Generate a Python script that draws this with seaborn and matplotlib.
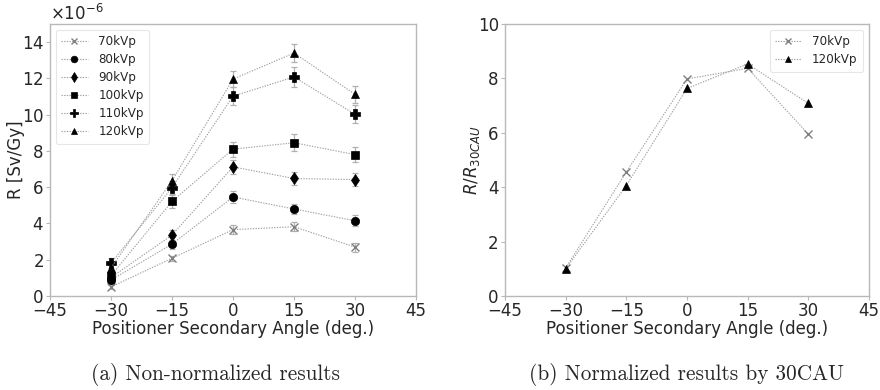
import numpy as np
import pandas as pd
import matplotlib
matplotlib.use("Agg")
import matplotlib.pyplot as plt
import matplotlib.ticker as mticker
import seaborn as sns

# ---- data ----
angles = [-30, -15, 0, 15, 30]
series_names = ["70kVp", "80kVp", "90kVp", "100kVp", "110kVp", "120kVp"]
r70 = [0.50, 2.08, 3.66, 3.82, 2.70]
r80 = [0.88, 2.86, 5.46, 4.80, 4.15]
r90 = [1.02, 3.36, 7.12, 6.48, 6.42]
r100 = [1.12, 5.22, 8.10, 8.45, 7.80]
r110 = [1.82, 5.98, 11.02, 12.08, 10.02]
r120 = [1.55, 6.36, 11.96, 13.40, 11.12]
e70 = [0.10, 0.15, 0.25, 0.25, 0.25]
e80 = [0.15, 0.25, 0.35, 0.28, 0.30]
e90 = [0.18, 0.30, 0.37, 0.35, 0.35]
e100 = [0.20, 0.34, 0.42, 0.46, 0.40]
e110 = [0.25, 0.35, 0.50, 0.53, 0.50]
e120 = [0.30, 0.35, 0.46, 0.51, 0.48]
n70 = [1.03, 4.56, 7.98, 8.37, 5.95]
n120 = [1.00, 4.06, 7.63, 8.53, 7.08]
norm_names = ["70kVp", "120kVp"]
xticks = [-45, -30, -15, 0, 15, 30, 45]

sns.set_style("white")
plt.rcParams["font.family"] = ["DejaVu Sans"]
plt.rcParams["axes.edgecolor"] = "#b8b8b8"
plt.rcParams["axes.linewidth"] = 1.0

fig = plt.figure(figsize=(8.8, 3.9), dpi=100)
H = 390.0
W = 880.0
axL = fig.add_axes([50 / W, 1 - 296 / H, 366 / W, 272 / H])
axR = fig.add_axes([505 / W, 1 - 296 / H, 364 / W, 272 / H])

vals = [r70, r80, r90, r100, r110, r120]
errs = [e70, e80, e90, e100, e110, e120]
markers = ["x", "o", "d", "s", "P", "^"]
mcols = ["#808080", "black", "black", "black", "black", "black"]
msizes = [6, 6, 6, 5.5, 6.5, 6]

line_kw = dict(color="#a0a0a0", linestyle=(0, (1.2, 1.2)), linewidth=0.8)
FS = 12

for name, v, e, m, mc, ms in zip(series_names, vals, errs, markers, mcols, msizes):
    df = pd.DataFrame({"angle": angles, "R": np.array(v) * 1e-6})
    axL.errorbar(df["angle"], df["R"], yerr=np.array(e) * 1e-6, fmt="none",
                 ecolor="#b0b0b0", elinewidth=0.9, capsize=2.5, capthick=0.9, zorder=1)
    sns.lineplot(data=df, x="angle", y="R", ax=axL, label=name, marker=m,
                 markerfacecolor=mc, markeredgecolor=mc, markersize=ms,
                 markeredgewidth=1.0 if m == "x" else 0.5, zorder=3, **line_kw)

for name, v, m, mc in zip(norm_names, [n70, n120], ["x", "^"], ["#808080", "black"]):
    df = pd.DataFrame({"angle": angles, "N": v})
    sns.lineplot(data=df, x="angle", y="N", ax=axR, label=name, marker=m,
                 markerfacecolor=mc, markeredgecolor=mc, markersize=6,
                 markeredgewidth=1.0 if m == "x" else 0.5, zorder=3, **line_kw)

for ax in (axL, axR):
    ax.set_xlim(-45, 45)
    ax.set_xticks(xticks)
    ax.tick_params(axis="both", which="both", length=3, width=0.8, color="#b8b8b8",
                   labelsize=FS, pad=1.5, bottom=True, left=True)
    ax.set_xlabel("Positioner Secondary Angle (deg.)", fontsize=FS, labelpad=0)

axL.set_ylim(0, 15e-6)
axL.set_yticks(np.arange(0, 15e-6, 2e-6))
fmt = mticker.ScalarFormatter(useMathText=True)
fmt.set_powerlimits((-6, -6))
axL.yaxis.set_major_formatter(fmt)
axL.yaxis.get_offset_text().set_fontsize(FS)
axL.set_ylabel("R [Sv/Gy]", fontsize=FS)
axL.yaxis.set_label_coords(-0.068, 0.5)

axR.set_ylim(0, 10)
axR.set_yticks([0, 2, 4, 6, 8, 10])
axR.set_ylabel("$R/R_{30CAU}$", fontsize=FS)
axR.yaxis.set_label_coords(-0.063, 0.5)

leg_kw = dict(fontsize=8.6, frameon=True, labelspacing=0.42, handlelength=2.2,
              borderaxespad=0.5, borderpad=0.45, handletextpad=0.9, markerscale=0.8)
legL = axL.legend(loc="upper left", **leg_kw)
legR = axR.legend(loc="upper right", **leg_kw)
for lg in (legL, legR):
    lg.get_frame().set_edgecolor("#e0e0e0")
    lg.get_frame().set_linewidth(0.8)

fig.text(215 / W, 1 - 374 / H, "(a) Non-normalized results", fontfamily="cmr10",
         fontsize=15.3, ha="center", va="center")
fig.text(686 / W, 1 - 374 / H, "(b) Normalized results by 30CAU", fontfamily="cmr10",
         fontsize=15.3, ha="center", va="center")

fig.savefig("out.png", dpi=100)
